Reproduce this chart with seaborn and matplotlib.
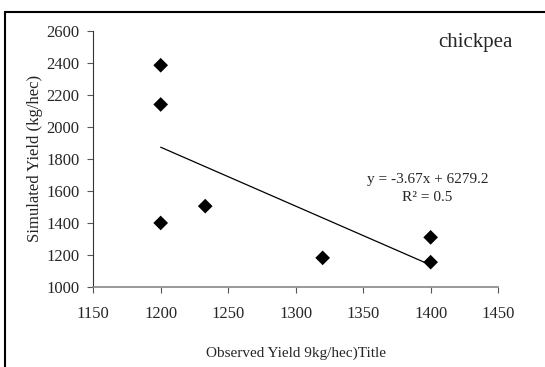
import numpy as np
import pandas as pd
import matplotlib
matplotlib.use("Agg")
import matplotlib.pyplot as plt
import seaborn as sns
from matplotlib.lines import Line2D

# data
observed = [1200, 1200, 1200, 1233, 1320, 1400, 1400]
simulated = [2385, 2140, 1400, 1505, 1182, 1310, 1155]
x_ticks = [1150, 1200, 1250, 1300, 1350, 1400, 1450]
y_ticks = [1000, 1200, 1400, 1600, 1800, 2000, 2200, 2400, 2600]

df = pd.DataFrame({"Observed": observed, "Simulated": simulated})

sns.set_style("ticks")
plt.rcParams["font.family"] = ["Liberation Serif", "DejaVu Serif"]

fig = plt.figure(figsize=(5.45, 3.67), dpi=100)
ax = fig.add_axes([0.171, 0.218, 0.743, 0.698])

sns.regplot(x="Observed", y="Simulated", data=df, ax=ax, ci=None,
            marker="D", color="black",
            scatter_kws={"s": 56, "alpha": 1, "edgecolor": "none", "zorder": 3},
            line_kws={"color": "black", "linewidth": 0.9})

ax.set_xlim(1150, 1450)
ax.set_ylim(1000, 2600)
ax.set_xticks(x_ticks)
ax.set_yticks(y_ticks)
ax.tick_params(labelsize=12, length=4, width=0.8, direction="out", color="#555555")
ax.tick_params(axis="x", pad=10)
ax.tick_params(axis="y", pad=6)

sns.despine(ax=ax)
ax.spines["left"].set_color("#333333")
ax.spines["bottom"].set_color("#888888")
ax.spines["bottom"].set_linewidth(1.2)

ax.set_xlabel("Observed Yield 9kg/hec)Title", fontsize=11)
ax.set_ylabel("Simulated Yield (kg/hec)", fontsize=12)
ax.xaxis.set_label_coords(0.5, -0.234)
ax.yaxis.set_label_coords(-0.125, 0.5)

ax.text(1.037, 0.953, "chickpea", transform=ax.transAxes, ha="right",
        va="center", fontsize=15)
ax.text(0.825, 0.418, "y = -3.67x + 6279.2", transform=ax.transAxes,
        ha="center", va="center", fontsize=11)
ax.text(0.825, 0.348, "R² = 0.5", transform=ax.transAxes,
        ha="center", va="center", fontsize=11)

# outer frame (top and left edges)
fig.add_artist(Line2D([5 / 545, 5 / 545], [0, 1 - 12 / 367], color="black", lw=1.5))
fig.add_artist(Line2D([5 / 545, 1], [1 - 12 / 367, 1 - 12 / 367], color="black", lw=1.5))

fig.savefig("out.png", dpi=100)
